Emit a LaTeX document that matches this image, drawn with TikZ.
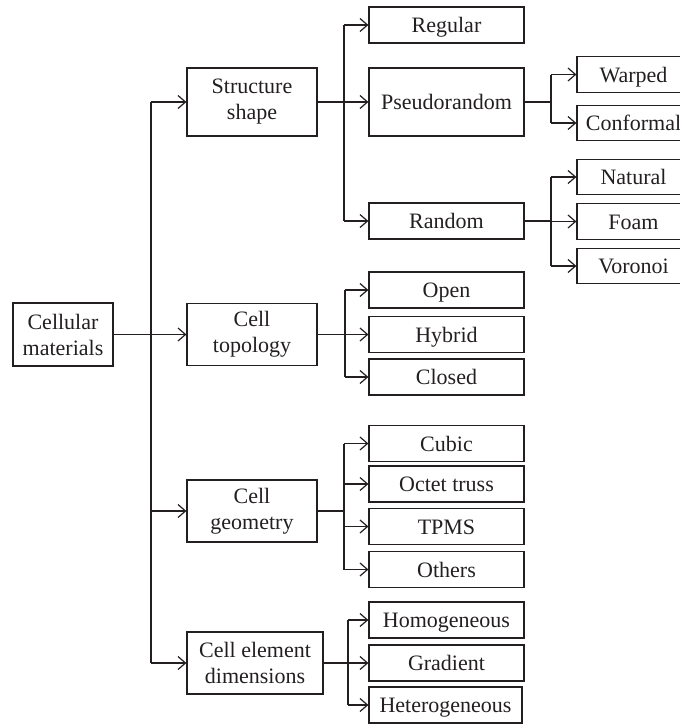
\documentclass[tikz,border=0pt]{standalone}
\usepackage{fontspec}
\setmainfont{Liberation Serif}
\usetikzlibrary{arrows.meta}
\definecolor{ink}{HTML}{231F20}
\tikzset{
  box/.style={draw=ink, text=ink, line width=1.2pt, inner sep=0pt, align=center,
    font=\fontsize{22}{26}\selectfont},
  lvtwo/.style={box, minimum width=130pt, minimum height=62pt},
  lvthree/.style={box, minimum width=155pt, minimum height=36pt, text height=15pt, text depth=0pt},
  lvfour/.style={box, minimum width=113pt, minimum height=35.5pt, text height=15pt, text depth=0pt},
  wire/.style={draw=ink, line width=1.2pt},
  arr/.style={wire, -{Straight Barb[length=7.5pt,width=13pt,line width=1.2pt]}}
}
\begin{document}
\begin{tikzpicture}[x=1pt,y=-1pt]
\useasboundingbox (0,0) rectangle (680,724);
\clip (0,0) rectangle (680,724);
% level 1
\node[box, minimum width=100pt, minimum height=63pt] (cm) at (63,334.5) {Cellular\\materials};
% level 2
\node[lvtwo, minimum height=68pt] (S) at (252,102) {Structure\\shape};
\node[lvtwo] (T) at (252,334.5) {Cell\\topology};
\node[lvtwo] (G) at (252,511) {Cell\\geometry};
\node[lvtwo, minimum width=136pt] (D) at (255,663) {Cell element\\dimensions};
% level 3
\node[lvthree] (reg) at (446.5,25) {Regular};
\node[lvthree, minimum height=68pt] (pse) at (446.5,102) {Pseudorandom};
\node[lvthree] (ran) at (446.5,221) {Random};
\node[lvthree] (ope) at (446.5,290) {Open};
\node[lvthree] (hyb) at (446.5,334.5) {Hybrid};
\node[lvthree] (clo) at (446.5,377) {Closed};
\node[lvthree] (cub) at (446.5,443.5) {Cubic};
\node[lvthree] (oct) at (446.5,484) {Octet truss};
\node[lvthree] (tpm) at (446.5,526.5) {TPMS};
\node[lvthree] (oth) at (446.5,569.5) {Others};
\node[lvthree] (hom) at (446.5,620) {Homogeneous};
\node[lvthree] (gra) at (446.5,663) {Gradient};
\node[lvthree, minimum width=153pt] (het) at (445.5,705) {Heterogeneous};
% level 4
\node[lvfour] (war) at (633.5,74.5) {Warped};
\node[lvfour] (con) at (633.5,123) {Conformal};
\node[lvfour] (nat) at (633.5,177) {Natural};
\node[lvfour] (foa) at (633.5,221.5) {Foam};
\node[lvfour] (vor) at (633.5,266) {Voronoi};
% branch coordinates
\coordinate (t0) at (151,0);
\coordinate (bS) at (344,0);
\coordinate (bT) at (345,0);
\coordinate (bG) at (344,0);
\coordinate (bD) at (348,0);
\coordinate (bP) at (551,0);
\coordinate (bR) at (551,0);
% trunk
\draw[wire] (cm.east) -- (cm.east -| t0);
\draw[wire] (S.west -| t0) -- (D.west -| t0);
\foreach \n in {S,T,G,D} \draw[arr] (\n.west -| t0) -- (\n.west);
% structure shape
\draw[wire] (S.east) -- (S.east -| bS);
\draw[wire] (reg.west -| bS) -- (ran.west -| bS);
\foreach \n in {reg,pse,ran} \draw[arr] (\n.west -| bS) -- (\n.west);
% pseudorandom
\draw[wire] (pse.east) -- (pse.east -| bP);
\draw[wire] (war.west -| bP) -- (con.west -| bP);
\foreach \n in {war,con} \draw[arr] (\n.west -| bP) -- (\n.west);
% random
\draw[wire] (ran.east) -- (ran.east -| bR);
\draw[wire] (nat.west -| bR) -- (vor.west -| bR);
\foreach \n in {nat,foa,vor} \draw[arr] (\n.west -| bR) -- (\n.west);
% topology
\draw[wire] (T.east) -- (T.east -| bT);
\draw[wire] (ope.west -| bT) -- (clo.west -| bT);
\foreach \n in {ope,hyb,clo} \draw[arr] (\n.west -| bT) -- (\n.west);
% geometry
\draw[wire] (G.east) -- (G.east -| bG);
\draw[wire] (cub.west -| bG) -- (oth.west -| bG);
\foreach \n in {cub,oct,tpm,oth} \draw[arr] (\n.west -| bG) -- (\n.west);
% dimensions
\draw[wire] (D.east) -- (D.east -| bD);
\draw[wire] (hom.west -| bD) -- (het.west -| bD);
\foreach \n in {hom,gra,het} \draw[arr] (\n.west -| bD) -- (\n.west);
\end{tikzpicture}
\end{document}
